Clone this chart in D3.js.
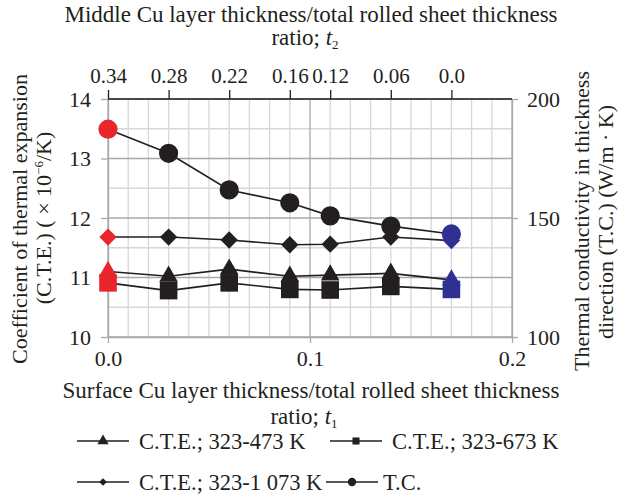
<!DOCTYPE html>
<html>
<head>
<meta charset="utf-8">
<script src="https://cdn.jsdelivr.net/npm/d3@7"></script>
<style>
  body { margin: 0; background: #fff; }
  text { font-family: "Liberation Serif", "Times New Roman", serif; fill: #231f20; }
</style>
</head>
<body>
<div id="chart"></div>
<script>
// data
const surfaceRatio = [0.0, 0.03, 0.06, 0.09, 0.11, 0.14, 0.17];
const middleRatioLabels = ["0.34", "0.28", "0.22", "0.16", "0.12", "0.06", "0.0"];
const cte473 = [11.10, 11.02, 11.14, 11.02, 11.04, 11.07, 10.96];
const cte673 = [10.91, 10.78, 10.91, 10.80, 10.79, 10.85, 10.80];
const cte1073 = [11.68, 11.68, 11.63, 11.55, 11.56, 11.68, 11.62];
const thermalCond = [187.3, 177.2, 161.8, 156.4, 150.9, 146.6, 143.3];
const legendLabels = ["C.T.E.; 323-473 K", "C.T.E.; 323-673 K", "C.T.E.; 323-1 073 K", "T.C."];

const W = 619, H = 494;
const svg = d3.select("#chart").append("svg")
    .attr("width", W).attr("height", H);

const x = d3.scaleLinear().domain([0, 0.2]).range([108, 512]);
const yL = d3.scaleLinear().domain([10, 14]).range([337, 99]);
const yR = d3.scaleLinear().domain([100, 200]).range([337, 99]);

const red = "#e8262b", blue = "#2e3192", black = "#231f20";
const major = "#a7a9ac", minor = "#d6d7d9";
const markColor = i => i === 0 ? red : (i === surfaceRatio.length - 1 ? blue : black);

// grid, minor first then major on top
const grid = svg.append("g");
const vTicks = d3.range(0, 21).map(k => ({ v: k / 100, maj: k % 10 === 0 }));
const hTicks = d3.range(0, 9).map(k => ({ v: 10 + k * 0.5, maj: k % 2 === 0 }));
[false, true].forEach(m => {
    vTicks.filter(d => d.maj === m).forEach(d => {
        grid.append("line")
            .attr("x1", x(d.v)).attr("x2", x(d.v))
            .attr("y1", yL(10)).attr("y2", yL(14))
            .attr("stroke", m ? major : minor).attr("stroke-width", 1.3);
    });
    hTicks.filter(d => d.maj === m).forEach(d => {
        grid.append("line")
            .attr("x1", x(0)).attr("x2", x(0.2))
            .attr("y1", yL(d.v)).attr("y2", yL(d.v))
            .attr("stroke", m ? major : minor).attr("stroke-width", 1.3);
    });
});

// axes
const fs = "22px";
const styleAxis = (g, col, size) => {
    g.select(".domain").attr("stroke", col).attr("stroke-width", 1.3);
    g.selectAll(".tick line").attr("stroke", col).attr("stroke-width", 1.3);
    g.selectAll(".tick text").style("font-size", size || fs)
        .style("font-family", "'Liberation Serif', serif").attr("fill", black);
};

svg.append("g")
    .attr("transform", `translate(0,${yL(10)})`)
    .call(d3.axisBottom(x).tickValues([0, 0.1, 0.2]).tickFormat(d3.format(".1f"))
        .tickSize(6).tickSizeOuter(0).tickPadding(7))
    .call(g => styleAxis(g, major));

svg.append("g")
    .attr("transform", `translate(${x(0)},0)`)
    .call(d3.axisLeft(yL).tickValues([10, 11, 12, 13, 14]).tickFormat(d3.format("d"))
        .tickSize(7).tickSizeOuter(0).tickPadding(10))
    .call(g => styleAxis(g, major));

svg.append("g")
    .attr("transform", `translate(${x(0.2)},0)`)
    .call(d3.axisRight(yR).tickValues([100, 150, 200]).tickFormat(d3.format("d"))
        .tickSize(6).tickSizeOuter(0).tickPadding(9))
    .call(g => styleAxis(g, major));

// top axis: middle layer ratio at the same sample positions
svg.append("g")
    .attr("transform", `translate(0,${yL(14)})`)
    .call(d3.axisTop(x).tickValues(surfaceRatio).tickFormat((d, i) => middleRatioLabels[i])
        .tickSize(9).tickSizeOuter(0).tickPadding(7))
    .call(g => styleAxis(g, black, "21px"))
    .call(g => g.select(".domain").attr("d", `M${x(0)},0H${x(0.2)}`));

// series lines
const lineL = d3.line().x((d, i) => x(surfaceRatio[i])).y(d => yL(d));
const lineR = d3.line().x((d, i) => x(surfaceRatio[i])).y(d => yR(d));
[cte473, cte673, cte1073].forEach(s => {
    svg.append("path").datum(s).attr("d", lineL)
        .attr("fill", "none").attr("stroke", black).attr("stroke-width", 1.6);
});
svg.append("path").datum(thermalCond).attr("d", lineR)
    .attr("fill", "none").attr("stroke", black).attr("stroke-width", 1.6);

// markers
const sym = (type, size) => d3.symbol().type(type).size(size)();
const drawMarks = (vals, yScale, type, size, rot) => {
    svg.append("g").selectAll("path").data(vals).join("path")
        .attr("transform", (d, i) => `translate(${x(surfaceRatio[i])},${yScale(d)}) rotate(${rot})`)
        .attr("d", sym(type, size))
        .attr("fill", (d, i) => markColor(i));
};
drawMarks(cte473, yL, d3.symbolTriangle, 150, 0);
drawMarks(cte673, yL, d3.symbolSquare, 310, 0);
drawMarks(cte1073, yL, d3.symbolSquare, 150, 45);
drawMarks(thermalCond, yR, d3.symbolCircle, 290, 0);

// titles
const title = (tx, ty, rot, size, parts) => {
    const t = svg.append("text")
        .attr("transform", `translate(${tx},${ty}) rotate(${rot})`)
        .attr("text-anchor", "middle")
        .style("font-size", size);
    parts.forEach(p => {
        const ts = t.append("tspan").text(p.t);
        if (p.i) ts.style("font-style", "italic");
        if (p.sub) ts.attr("dy", 4).style("font-size", "13px");
        if (p.sup) ts.attr("dy", -8).style("font-size", "13px");
        if (p.back) ts.attr("dy", p.back);
    });
    return t;
};
title(311, 22, 0, "23px", [{ t: "Middle Cu layer thickness/total rolled sheet thickness" }]);
title(305, 45, 0, "23px", [{ t: "ratio; " }, { t: "t", i: true }, { t: "2", sub: true }]);
title(311, 398, 0, "23px", [{ t: "Surface Cu layer thickness/total rolled sheet thickness" }]);
title(304, 424, 0, "23px", [{ t: "ratio; " }, { t: "t", i: true }, { t: "1", sub: true }]);
title(27, 219, -90, fs, [{ t: "Coefficient of thermal expansion" }]);
title(51, 218, -90, fs, [{ t: "(C.T.E.) ( × 10" }, { t: "−6", sup: true }, { t: "/K)", back: 8 }]);
title(589, 221, -90, fs, [{ t: "Thermal conductivity in thickness" }]);
title(613, 222, -90, fs, [{ t: "direction (T.C.) (W/m · K)" }]);

// legend
const legendTypes = [d3.symbolTriangle, d3.symbolSquare, d3.symbolSquare, d3.symbolCircle];
const legendSizes = [55, 50, 30, 55];
const legendRot = [0, 0, 45, 0];
const legendPos = [[77, 441, 139], [330, 441, 392], [77, 482, 139], [326, 482, 383]];
legendLabels.forEach((lab, i) => {
    const [lx, ly, tx] = legendPos[i];
    const g = svg.append("g").attr("transform", `translate(${lx},${ly})`);
    g.append("line").attr("x1", 0).attr("x2", 52).attr("y1", 0).attr("y2", 0)
        .attr("stroke", black).attr("stroke-width", 1.6);
    g.append("path").attr("transform", `translate(26,0) rotate(${legendRot[i]})`)
        .attr("d", sym(legendTypes[i], legendSizes[i])).attr("fill", black);
    g.append("text").attr("x", tx - lx).attr("y", 8).style("font-size", "22.5px").text(lab);
});
</script>
</body>
</html>
